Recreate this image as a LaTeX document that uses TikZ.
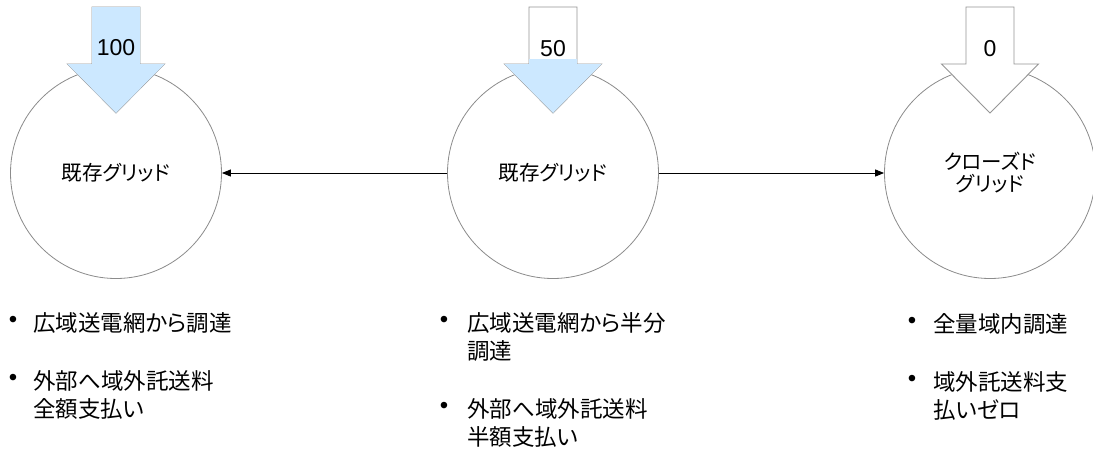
\documentclass[tikz,border=0pt]{standalone}
\usepackage{fontspec}
\setmainfont{Liberation Sans}
\newfontfamily\jp[RawFeature=+palt]{Noto Sans CJK JP}
\usetikzlibrary{arrows.meta}
\definecolor{lblue}{RGB}{204,232,255}
\definecolor{cgray}{RGB}{140,140,140}
\definecolor{agray}{RGB}{150,150,150}
\tikzset{
  grid/.style={circle, draw=cgray, line width=0.8pt, minimum size=211pt, inner sep=0pt, align=center,
    font=\jp\fontsize{20.5}{22}\selectfont},
  conn/.style={draw=black, line width=0.9pt, -{Triangle[length=9pt,width=7pt]}},
  num/.style={font=\fontsize{23}{23}\selectfont, inner sep=0pt},
  bul/.style={font=\fontsize{24}{24}\selectfont, inner sep=0pt},
  item/.style={anchor=north west, align=left, inner sep=0pt, font=\jp\fontsize{22.5}{28}\selectfont},
  arrowout/.style={draw=agray, line width=0.9pt},
}
\newcommand{\dnarrow}[1]{(#1-24,7) -- (#1+24,7) -- (#1+24,64) -- (#1+48.5,64) -- (#1,113) -- (#1-48.5,64) -- (#1-24,64) -- cycle}
\begin{document}
\begin{tikzpicture}[x=1pt,y=-1pt]
\useasboundingbox (0,0) rectangle (1093,451);
\fill[white] (0,0) rectangle (1093,451);
% circles
\node[grid] (l) at (116,173) {既存グリッド};
\node[grid] (m) at (553,173) {既存グリッド};
\node[grid] (r) at (990,173) {クローズド\\グリッド};
% connectors
\draw[conn] (m.west) -- (l.east);
\draw[conn] (m.east) -- (r.west);
% arrow 100
\filldraw[arrowout, fill=lblue] \dnarrow{116};
\fill[lblue] \dnarrow{116};
% arrow 50
\filldraw[arrowout, fill=white] \dnarrow{553};
\begin{scope}
  \clip (400,59) rectangle (700,120);
  \fill[lblue] \dnarrow{553};
\end{scope}
% arrow 0
\filldraw[arrowout, fill=white] \dnarrow{990};
% numbers
\node[num] (n1) at (116,48) {100};
\node[num] (n2) at (553,49) {50};
\node[num] (n3) at (990,49) {0};
% bullets left
\node[bul] (b1) at (13,322) {•};
\node[item] (t1) at (33,312) {広域送電網から調達};
\node[bul] (b2) at (13,380) {•};
\node[item] (t2) at (33,370) {外部へ域外託送料\\全額支払い};
% bullets middle
\node[bul] (b3) at (444,322) {•};
\node[item] (t3) at (467,312) {広域送電網から半分\\調達};
\node[bul] (b4) at (444,408) {•};
\node[item] (t4) at (467,398) {外部へ域外託送料\\半額支払い};
% bullets right
\node[bul] (b5) at (912,323) {•};
\node[item] (t5) at (933,313) {全量域内調達};
\node[bul] (b6) at (912,381) {•};
\node[item] (t6) at (933,371) {域外託送料支\\払いゼロ};
\end{tikzpicture}
\end{document}
